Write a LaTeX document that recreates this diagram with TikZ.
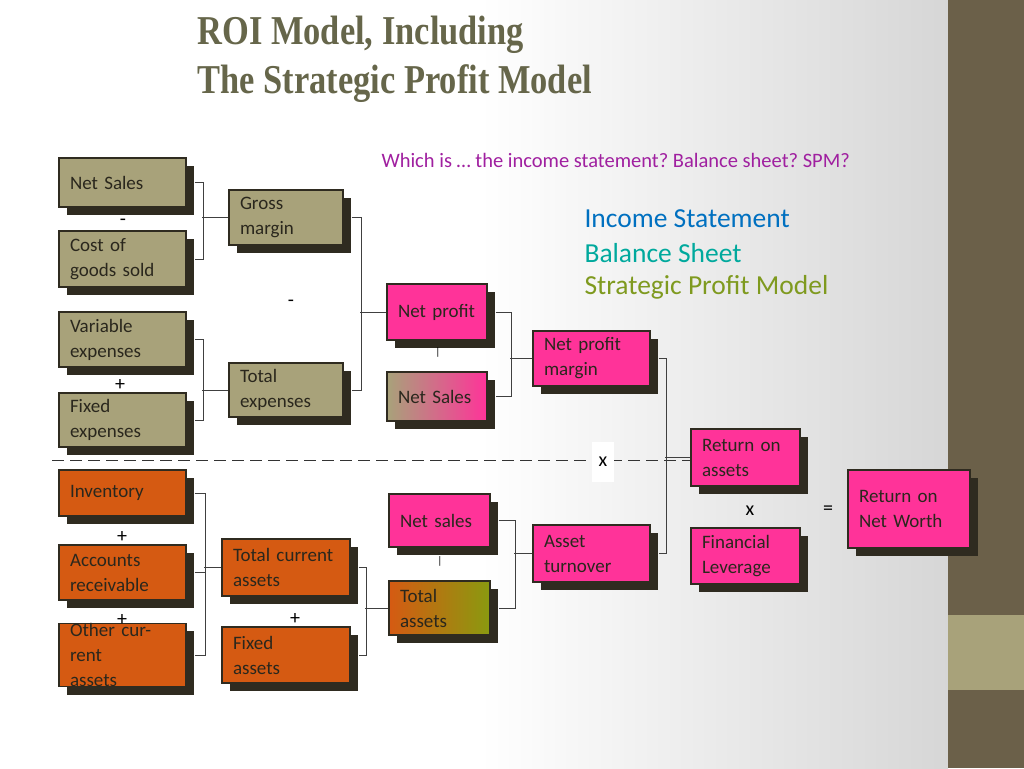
\documentclass[tikz,border=0pt]{standalone}
\usepackage{fontspec}
\setmainfont{Carlito}
\newfontfamily\titlefont[FakeStretch=0.84]{Liberation Serif}
\usetikzlibrary{shadows}
\definecolor{tan}{HTML}{A8A27A}
\definecolor{pnk}{HTML}{FF3399}
\definecolor{org}{HTML}{D55A12}
\definecolor{olv}{HTML}{8A9A10}
\definecolor{shd}{HTML}{2F2B20}
\definecolor{brn}{HTML}{6B6049}
\definecolor{ttl}{HTML}{66664A}
\frenchspacing
\begin{document}
\begin{tikzpicture}[x=1pt,y=-1pt,
  box/.style={draw=shd, line width=1.2pt, inner sep=0pt, align=left,
    font=\fontsize{19}{25}\selectfont, text=shd!90!black,
    general shadow={fill=shd, shadow xshift=8pt, shadow yshift=-8pt}},
  bw/.style 2 args={minimum width=#1pt, minimum height=#2pt, text width=#1pt-22pt},
  ln/.style={draw=black!75, line width=0.9pt},
  op/.style={font=\fontsize{20}{20}\selectfont, text=black}]
\useasboundingbox (0,0) rectangle (1024,768);
\fill[white] (0,0) rectangle (948,768);
\shade[left color=white, right color=gray!32] (480,0) rectangle (948,768);
\fill[brn] (948,0) rectangle (1024,768);
\fill[tan] (948,615) rectangle (1024,690);

\node[anchor=west, font=\titlefont\bfseries\fontsize{41}{41}\selectfont, text=ttl] (t1) at (194,35) {ROI Model, Including};
\node[anchor=west, font=\titlefont\bfseries\fontsize{41}{41}\selectfont, text=ttl] (t2) at (194,84) {The Strategic Profit Model};
\node[anchor=west, font=\fontsize{20.5}{20}\selectfont, text={rgb,255:red,160;green,32;blue,160}] (q) at (378,160) {Which is \dots\ the income statement? Balance sheet? SPM?};
\node[anchor=west, font=\fontsize{27.5}{25}\selectfont, text={rgb,255:red,0;green,112;blue,192}] (l1) at (581,219) {Income Statement};
\node[anchor=west, font=\fontsize{27.5}{25}\selectfont, text={rgb,255:red,0;green,169;blue,157}] (l2) at (581,253) {Balance Sheet};
\node[anchor=west, font=\fontsize{27.5}{25}\selectfont, text={rgb,255:red,127;green,154;blue,31}] (l3) at (581,287) {Strategic Profit Model};

% dashed line
\coordinate (dl) at (52,460);
\coordinate (dr) at (690,460);
\draw[dashed, dash pattern=on 12pt off 6pt, line width=1pt, black!80] (dl) -- (dr);
\node[fill=white, op, minimum width=22pt, minimum height=40pt] (xx) at (603,462) {x};

% boxes
\node[box, bw={127}{49}, fill=tan] (nsales) at (122.5,182.5) {Net Sales};
\node[box, bw={127}{56}, fill=tan] (cogs) at (122.5,259) {Cost of\\goods sold};
\node[box, bw={127}{55}, fill=tan] (var) at (122.5,339.5) {Variable\\expenses};
\node[box, bw={127}{54}, fill=tan] (fix) at (122.5,420) {Fixed\\expenses};
\node[box, bw={114}{55}, fill=tan] (gm) at (286,217.5) {Gross\\margin};
\node[box, bw={114}{54}, fill=tan] (te) at (286,390) {Total\\expenses};
\node[box, bw={100}{56}, fill=pnk] (np) at (437,312) {Net profit};
\node[box, bw={100}{49}, left color=tan, right color=pnk] (ns2) at (437,396.5) {Net Sales};
\node[box, bw={117}{55}, fill=pnk] (npm) at (591.5,358.5) {Net profit\\margin};
\node[box, bw={109}{57}, fill=pnk] (roa) at (745.5,457.5) {Return on\\assets};
\node[box, bw={109}{56}, fill=pnk] (fl) at (745.5,556) {Financial\\Leverage};
\node[box, bw={122}{78}, fill=pnk] (ronw) at (909,509) {Return on\\Net Worth};
\node[box, bw={127}{46}, fill=org] (inv) at (122.5,493) {Inventory};
\node[box, bw={127}{55}, fill=org] (ar) at (122.5,572.5) {Accounts\\receivable};
\node[box, bw={127}{56}, fill=org] (oca) at (122.5,655) {Other current\\assets};
\node[box, bw={128}{57}, fill=org] (tca) at (286,567.5) {Total current\\assets};
\node[box, bw={128}{56}, fill=org] (fa) at (286,655) {Fixed\\assets};
\node[box, bw={101}{53}, fill=pnk] (ns3) at (439.5,520.5) {Net sales};
\node[box, bw={101}{54}, left color=org, right color=olv] (ta) at (439.5,608) {Total\\assets};
\node[box, bw={117}{57}, fill=pnk] (at) at (591.5,553.5) {Asset\\turnover};

% connectors
\draw[ln] ([xshift=8pt]nsales.east) -- ++(9,0) |- ([xshift=8pt]cogs.east);
\draw[ln] (gm.west) -- ++(-26,0);
\draw[ln] ([xshift=8pt]var.east) -- ++(9,0) |- ([xshift=8pt]fix.east);
\draw[ln] (te.west) -- ++(-26,0);
\draw[ln] ([xshift=8pt]gm.east) -- ++(10,0) |- ([xshift=8pt]te.east);
\draw[ln] (np.west) -- ++(-26,0);
\draw[ln] ([xshift=8pt]np.east) -- ++(16,0) |- ([xshift=8pt]ns2.east);
\draw[ln] (npm.west) -- ++(-22,0);
\draw[ln] ([xshift=8pt]npm.east) -- ++(8,0) |- ([xshift=8pt]at.east);
\draw[ln] (roa.west) -- ++(-25,0);
\draw[ln] ([xshift=8pt]inv.east) -- ++(11,0) |- ([xshift=8pt]oca.east);
\draw[ln] ([xshift=8pt]ar.east) -- ++(11,0);
\draw[ln] (tca.west) -- ++(-17,0);
\draw[ln] ([xshift=8pt]tca.east) -- ++(8,0) |- ([xshift=8pt]fa.east);
\draw[ln] (ta.west) -- ++(-23,0);
\draw[ln] ([xshift=8pt]ns3.east) -- ++(17,0) |- ([xshift=8pt]ta.east);
\draw[ln] (at.west) -- ++(-18,0);

% operators
\node[op] (o1) at (123,222) {-};
\node[op] (o2) at (120,385) {+};
\node[op] (o3) at (291,303) {-};
\node[op, font=\fontsize{11}{11}\selectfont] (o4) at (438,352) {|};
\node[op] (o5) at (122,537) {+};
\node[op] (o6) at (122,620) {+};
\node[op] (o7) at (295,619) {+};
\node[op, font=\fontsize{11}{11}\selectfont] (o8) at (440,561) {|};
\node[op] (o9) at (750,511) {x};
\node[op] (o10) at (828,510) {=};
\end{tikzpicture}
\end{document}
